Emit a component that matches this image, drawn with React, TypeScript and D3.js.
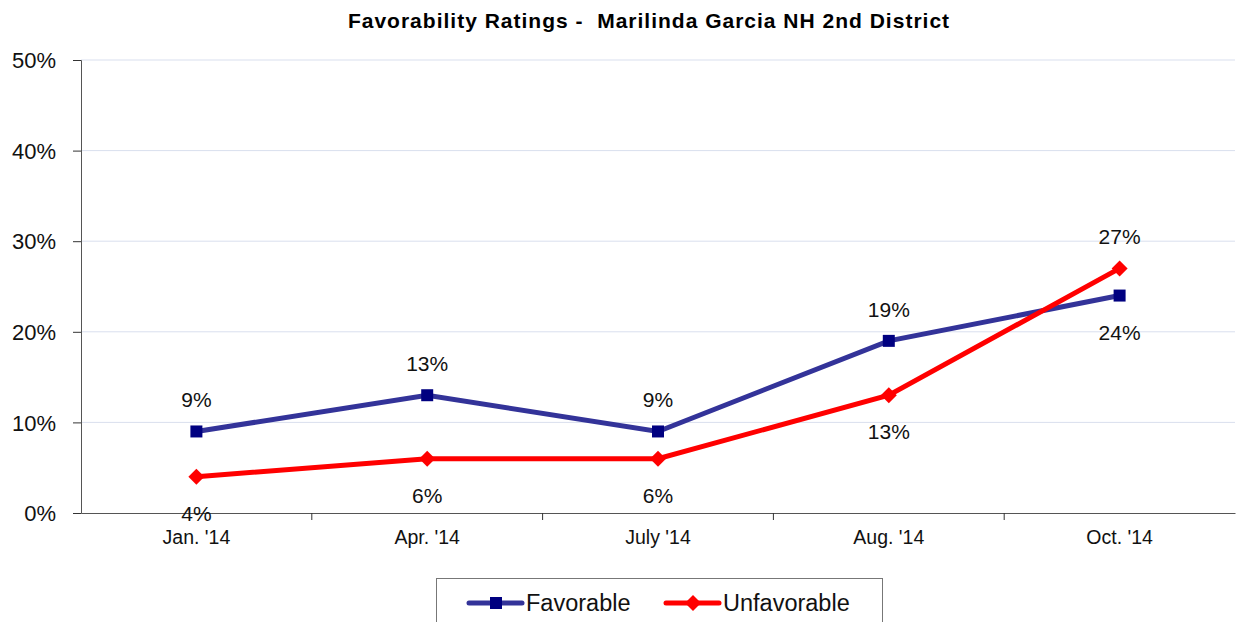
import React, { useRef, useEffect } from 'react';
import * as d3 from 'd3';

const categories = ["Jan. '14", "Apr. '14", "July '14", "Aug. '14", "Oct. '14"];
const favorable = [9, 13, 9, 19, 24];
const unfavorable = [4, 6, 6, 13, 27];
const yTicks = [0, 10, 20, 30, 40, 50];
// label above (-1) or below (1) the point
const favPos = [-1, -1, -1, -1, 1];
const unfavPos = [1, 1, 1, 1, -1];

const FONT = "'Liberation Sans', Arial, sans-serif";

// square-ish diamond (d3's own diamond is too tall)
const diamond = (r: number) => `M0,${-r}L${r},0L0,${r}L${-r},0Z`;
const square = (r: number) => `M${-r},${-r}H${r}V${r}H${-r}Z`;

const App = () => {
  const svgRef = useRef<SVGSVGElement>(null);

  useEffect(() => {
    const width = 1236;
    const height = 622;
    const left = 81, right = 1235, top = 60, bottom = 513;

    const svg = d3.select(svgRef.current)
      .attr('width', width)
      .attr('height', height);
    svg.selectAll('*').remove();

    const x = d3.scaleBand().domain(categories).range([left, right]);
    const y = d3.scaleLinear().domain([0, 50]).range([bottom, top]);
    const cx = (c: string) => (x(c) as number) + x.bandwidth() / 2;

    // title
    svg.append('text')
      .attr('x', 649).attr('y', 28)
      .attr('text-anchor', 'middle')
      .style('white-space', 'pre')
      .attr('letter-spacing', 1)
      .attr('font-family', FONT).attr('font-weight', 'bold').attr('font-size', 21)
      .text('Favorability Ratings -  Marilinda Garcia NH 2nd District');

    // gridlines
    svg.append('g').selectAll('line')
      .data(yTicks.filter(d => d > 0))
      .join('line')
      .attr('x1', left).attr('x2', right)
      .attr('y1', d => y(d)).attr('y2', d => y(d))
      .attr('stroke', '#d9dfee').attr('stroke-width', 1);

    // y axis
    const yAxis = svg.append('g')
      .attr('transform', `translate(${left},0)`)
      .call(d3.axisLeft(y).tickValues(yTicks).tickSize(8).tickFormat(d => `${d}%`));
    yAxis.select('.domain').attr('stroke', '#555');
    yAxis.selectAll('.tick line').attr('stroke', '#333');
    yAxis.selectAll('.tick text')
      .attr('font-family', FONT).attr('font-size', 22).attr('fill', '#111')
      .attr('x', -25).attr('dy', '0.35em');

    // x axis
    const xAxis = svg.append('g')
      .attr('transform', `translate(0,${bottom})`)
      .call(d3.axisBottom(x).tickSize(0).tickPadding(14));
    xAxis.select('.domain').attr('stroke', '#555');
    xAxis.selectAll('.tick text')
      .attr('font-family', FONT).attr('font-size', 19.5).attr('fill', '#111')
      .attr('dy', '0.85em');
    // tick marks between categories
    svg.append('g').selectAll('line')
      .data(categories.slice(1))
      .join('line')
      .attr('x1', d => x(d) as number).attr('x2', d => x(d) as number)
      .attr('y1', bottom).attr('y2', bottom + 7)
      .attr('stroke', '#333');

    const line = d3.line<number>()
      .x((d, i) => cx(categories[i]))
      .y(d => y(d));

    const series = [
      { data: favorable, stroke: '#333399', marker: '#000080', shape: square(6), pos: favPos },
      { data: unfavorable, stroke: '#ff0000', marker: '#ff0000', shape: diamond(8), pos: unfavPos },
    ];

    series.forEach(s => {
      svg.append('path')
        .datum(s.data)
        .attr('d', line)
        .attr('fill', 'none')
        .attr('stroke', s.stroke)
        .attr('stroke-width', 5);

      svg.append('g').selectAll('path')
        .data(s.data)
        .join('path')
        .attr('transform', (d, i) => `translate(${cx(categories[i])},${y(d)})`)
        .attr('d', s.shape)
        .attr('fill', s.marker);

      svg.append('g').selectAll('text')
        .data(s.data)
        .join('text')
        .attr('x', (d, i) => cx(categories[i]))
        .attr('y', (d, i) => y(d) + (s.pos[i] < 0 ? -24 : 44))
        .attr('text-anchor', 'middle')
        .attr('font-family', FONT).attr('font-size', 21).attr('fill', '#111')
        .text(d => `${d}%`);
    });

    // legend
    const lg = svg.append('g');
    lg.append('rect')
      .attr('x', 436.5).attr('y', 578.5).attr('width', 446).attr('height', 60)
      .attr('fill', 'white').attr('stroke', '#777');
    const items = [
      { label: 'Favorable', s: series[0], x: 469 },
      { label: 'Unfavorable', s: series[1], x: 666 },
    ];
    items.forEach(it => {
      lg.append('line')
        .attr('x1', it.x).attr('x2', it.x + 53)
        .attr('y1', 603).attr('y2', 603)
        .attr('stroke', it.s.stroke).attr('stroke-width', 5)
        .attr('stroke-linecap', 'round');
      lg.append('path')
        .attr('transform', `translate(${it.x + 27},603)`)
        .attr('d', it.s.shape)
        .attr('fill', it.s.marker);
      lg.append('text')
        .attr('x', it.x + 57).attr('y', 611)
        .attr('font-family', FONT).attr('font-size', 23.5).attr('fill', '#111')
        .text(it.label);
    });
  }, []);

  return <svg ref={svgRef} style={{ position: 'absolute', left: 0, top: 0 }}></svg>;
};

export default App;
